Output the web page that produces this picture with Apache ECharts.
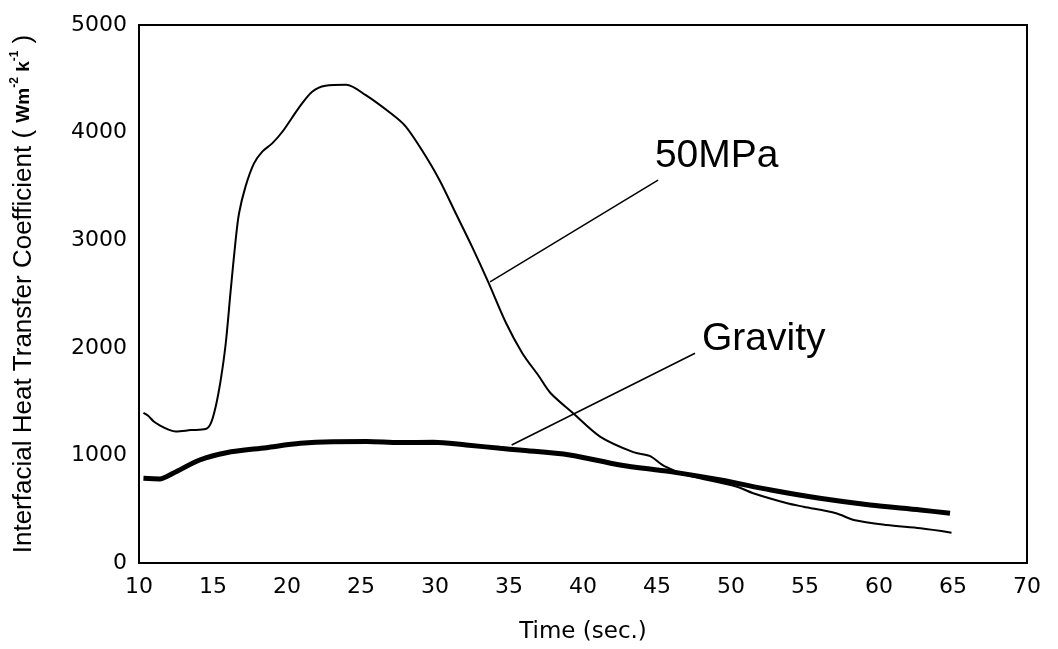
<!DOCTYPE html>
<html>
<head>
<meta charset="utf-8">
<script src="https://cdn.jsdelivr.net/npm/echarts@6/dist/echarts.min.js"></script>
<style>
  html, body { margin: 0; padding: 0; background: #fff; }
  #chart { width: 1058px; height: 649px; }
</style>
</head>
<body>
<div id="chart"></div>
<script>
// time (sec.) / coefficient
var mpaTime = [10.3, 10.6, 11.0, 11.4, 12.0, 12.5, 13.5, 14.5, 14.85, 15.18, 15.52, 15.86, 16.2, 16.53, 16.76, 17.2, 17.77, 18.33, 19.0, 19.7, 20.8, 21.7, 22.6, 24.0, 25.3, 27.1, 28.0, 29.1, 30.3, 31.4, 32.5, 33.6, 34.8, 35.9, 37.0, 37.8, 39.35, 41.15, 43.4, 44.5, 45.5, 47.0, 50.4, 51.5, 53.8, 54.9, 57.1, 58.3, 60.5, 62.8, 64.9]
var mpaValue = [1395, 1370, 1315, 1280, 1240, 1222, 1235, 1245, 1298, 1453, 1700, 2040, 2540, 3000, 3250, 3500, 3714, 3823, 3900, 4010, 4230, 4380, 4436, 4445, 4350, 4170, 4060, 3840, 3560, 3250, 2940, 2610, 2230, 1950, 1740, 1580, 1390, 1175, 1030, 995, 900, 818, 709, 648, 555, 523, 462, 400, 353, 322, 282]

var gravTime = [10.3, 11.4, 12.3, 14.1, 15.9, 18.6, 20.9, 23.1, 25.4, 27.6, 29.9, 32.1, 34.4, 35.7, 39.1, 42.5, 45.9, 49.3, 52.7, 56.0, 59.4, 62.8, 64.8]
var gravValue = [787, 781, 834, 957, 1025, 1072, 1112, 1128, 1130, 1120, 1122, 1097, 1066, 1050, 1004, 911, 849, 771, 678, 601, 539, 493, 462]

// leader lines and label anchors (data coords)
var mpaLeader = [[33.72, 2612], [45.07, 3559]]
var gravLeader = [[35.18, 1097], [47.57, 1949]]
var labelNames = ['50MPa', 'Gravity']
var labelPos = [[44.86, 3782], [48.04, 2082]]

function pairs(xs, ys) {
  var out = []
  for (var i = 0; i < xs.length; i++) {
    out.push([xs[i], ys[i]])
  }
  return out
}

// plain numbers, no thousands separator
function plain(v) {
  return String(v)
}

var chart = echarts.init(document.getElementById('chart'), null, { renderer: 'canvas' })

var option = {
  backgroundColor: '#fff',
  animation: false,
  grid: {
    left: 139, top: 25, right: 31, bottom: 86,
    show: true, borderColor: '#000', borderWidth: 2
  },
  xAxis: {
    type: 'value', min: 10, max: 70, interval: 5,
    name: 'Time (sec.)', nameLocation: 'middle', nameGap: 58,
    nameTextStyle: { fontFamily: 'DejaVu Sans', fontSize: 23, color: '#000' },
    axisLine: { lineStyle: { color: '#000', width: 2 } },
    axisTick: { show: false },
    splitLine: { show: false },
    axisLabel: { fontFamily: 'DejaVu Sans', fontSize: 22, color: '#000', margin: 13, formatter: plain }
  },
  yAxis: {
    type: 'value', min: 0, max: 5000, interval: 1000,
    name: '{a|Interfacial Heat Transfer Coefficient ( }{b|Wm}{s|-2}{b| k}{s|-1}{a| )}',
    nameLocation: 'middle', nameGap: 100, nameRotate: 90,
    nameTextStyle: {
      rich: {
        a: { fontFamily: 'Liberation Sans', fontSize: 26, color: '#000', lineHeight: 30 },
        b: { fontFamily: 'Liberation Sans', fontSize: 19, fontWeight: 'bold', color: '#000', lineHeight: 30 },
        s: { fontFamily: 'Liberation Sans', fontSize: 12, fontWeight: 'bold', color: '#000', verticalAlign: 'top', lineHeight: 30 }
      }
    },
    axisLine: { show: true, lineStyle: { color: '#000', width: 2 } },
    axisTick: { show: false },
    splitLine: { show: false },
    axisLabel: { fontFamily: 'DejaVu Sans', fontSize: 22, color: '#000', margin: 12, formatter: plain }
  },
  series: [
    {
      name: '50MPa', type: 'line', data: pairs(mpaTime, mpaValue),
      smooth: 0.3, showSymbol: false, symbol: 'none',
      lineStyle: { color: '#000', width: 2 }
    },
    {
      name: 'Gravity', type: 'line', data: pairs(gravTime, gravValue),
      smooth: 0.3, showSymbol: false, symbol: 'none',
      lineStyle: { color: '#000', width: 5 }
    },
    {
      type: 'line', data: mpaLeader, symbol: 'none',
      lineStyle: { color: '#000', width: 1.5 }
    },
    {
      type: 'line', data: gravLeader, symbol: 'none',
      lineStyle: { color: '#000', width: 1.5 }
    },
    {
      type: 'scatter', symbolSize: 0,
      itemStyle: { opacity: 1, color: '#000' },
      data: labelPos.map(function (p, i) { return { name: labelNames[i], value: p } }),
      label: {
        show: true, position: 'right', distance: 0,
        formatter: '{b}',
        fontFamily: 'Liberation Sans', fontSize: 39, color: '#000'
      }
    }
  ]
}

chart.setOption(option)
</script>
</body>
</html>
